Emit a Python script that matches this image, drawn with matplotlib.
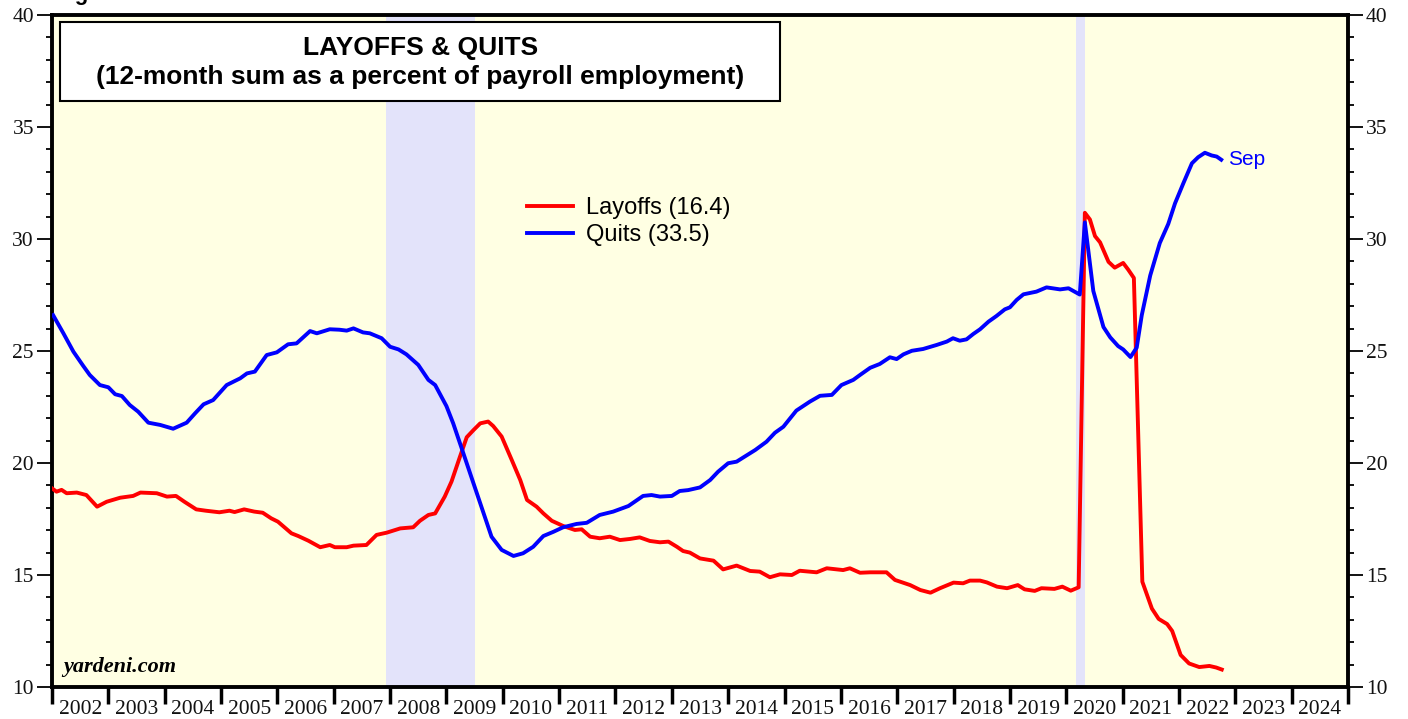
import matplotlib.pyplot as plt
import numpy as np
from matplotlib.patches import Rectangle
from matplotlib.ticker import MultipleLocator, FixedLocator, NullFormatter

# Quits, 12-month sum as % of payroll employment (decimal year)
quits_t = [2002.02, 2002.20, 2002.38, 2002.55, 2002.67, 2002.85, 2003.00, 2003.12, 2003.24,
           2003.38, 2003.53, 2003.71, 2003.92, 2004.15, 2004.39, 2004.54, 2004.69, 2004.86,
           2005.10, 2005.34, 2005.46, 2005.60, 2005.81, 2005.99, 2006.19, 2006.34, 2006.58,
           2006.70, 2006.93, 2007.10, 2007.23, 2007.35, 2007.52, 2007.64, 2007.85, 2008.00,
           2008.15, 2008.29, 2008.50, 2008.68, 2008.80, 2009.00, 2009.12, 2009.27, 2009.42,
           2009.60, 2009.80, 2009.98, 2010.19, 2010.36, 2010.54, 2010.72, 2010.90, 2011.07,
           2011.31, 2011.49, 2011.72, 2011.96, 2012.23, 2012.49, 2012.64, 2012.79, 2013.00,
           2013.14, 2013.29, 2013.50, 2013.68, 2013.82, 2014.00, 2014.15, 2014.27, 2014.48,
           2014.68, 2014.83, 2014.98, 2015.21, 2015.45, 2015.63, 2015.84, 2016.01, 2016.22,
           2016.34, 2016.52, 2016.69, 2016.87, 2016.99, 2017.11, 2017.26, 2017.46, 2017.70,
           2017.88, 2017.99, 2018.11, 2018.23, 2018.35, 2018.47, 2018.62, 2018.76, 2018.91,
           2019.00, 2019.12, 2019.24, 2019.47, 2019.65, 2019.89, 2020.04, 2020.24, 2020.33,
           2020.48, 2020.66, 2020.78, 2020.92, 2021.01, 2021.14, 2021.25, 2021.34, 2021.49,
           2021.66, 2021.81, 2021.93, 2022.08, 2022.23, 2022.34, 2022.46, 2022.58, 2022.67,
           2022.75]
quits_v = [26.60, 25.80, 24.97, 24.35, 23.93, 23.48, 23.38, 23.07, 22.99,
           22.59, 22.29, 21.80, 21.70, 21.53, 21.80, 22.22, 22.62, 22.81,
           23.48, 23.78, 24.00, 24.08, 24.82, 24.94, 25.30, 25.34, 25.89,
           25.79, 25.97, 25.95, 25.91, 26.01, 25.83, 25.79, 25.57, 25.19,
           25.07, 24.85, 24.38, 23.71, 23.48, 22.54, 21.77, 20.66, 19.54,
           18.20, 16.71, 16.12, 15.85, 15.97, 16.26, 16.74, 16.93, 17.13,
           17.28, 17.33, 17.68, 17.83, 18.08, 18.53, 18.57, 18.50, 18.53,
           18.75, 18.79, 18.91, 19.24, 19.61, 19.99, 20.06, 20.25, 20.58,
           20.95, 21.35, 21.62, 22.34, 22.74, 23.00, 23.04, 23.48, 23.71,
           23.93, 24.25, 24.42, 24.72, 24.64, 24.85, 25.01, 25.09, 25.27,
           25.42, 25.57, 25.46, 25.52, 25.76, 25.97, 26.31, 26.56, 26.86,
           26.95, 27.28, 27.53, 27.65, 27.84, 27.75, 27.80, 27.52, 30.74,
           27.68, 26.07, 25.61, 25.22, 25.07, 24.73, 25.15, 26.60, 28.37,
           29.82, 30.67, 31.59, 32.50, 33.38, 33.65, 33.85, 33.73, 33.68,
           33.54]

# Layoffs, 12-month sum as % of payroll employment
layoffs_t = [2002.00, 2002.08, 2002.17, 2002.26, 2002.44, 2002.61, 2002.80, 2002.97, 2003.21,
             2003.44, 2003.57, 2003.86, 2004.04, 2004.20, 2004.35, 2004.56, 2004.73, 2004.97,
             2005.15, 2005.24, 2005.41, 2005.59, 2005.74, 2005.89, 2006.01, 2006.25, 2006.37,
             2006.55, 2006.76, 2006.93, 2007.02, 2007.23, 2007.35, 2007.58, 2007.76, 2007.94,
             2008.18, 2008.41, 2008.53, 2008.68, 2008.80, 2008.97, 2009.09, 2009.24, 2009.36,
             2009.48, 2009.60, 2009.74, 2009.83, 2009.98, 2010.16, 2010.31, 2010.43, 2010.60,
             2010.72, 2010.87, 2011.07, 2011.28, 2011.40, 2011.55, 2011.72, 2011.90, 2012.08,
             2012.26, 2012.43, 2012.61, 2012.79, 2012.94, 2013.09, 2013.20, 2013.32, 2013.50,
             2013.74, 2013.91, 2014.15, 2014.39, 2014.56, 2014.74, 2014.92, 2015.13, 2015.27,
             2015.57, 2015.75, 2016.04, 2016.16, 2016.34, 2016.52, 2016.81, 2016.96, 2017.23,
             2017.41, 2017.59, 2017.76, 2018.00, 2018.17, 2018.29, 2018.47, 2018.59, 2018.77,
             2018.95, 2019.14, 2019.26, 2019.44, 2019.56, 2019.79, 2019.93, 2020.08, 2020.22,
             2020.33, 2020.42, 2020.51, 2020.60, 2020.75, 2020.86, 2021.01, 2021.10, 2021.20,
             2021.35, 2021.52, 2021.64, 2021.79, 2021.88, 2022.03, 2022.18, 2022.36, 2022.54,
             2022.66, 2022.76]
layoffs_v = [18.87, 18.72, 18.80, 18.65, 18.68, 18.57, 18.05, 18.27, 18.45,
             18.53, 18.68, 18.65, 18.50, 18.53, 18.27, 17.93, 17.87, 17.80,
             17.87, 17.81, 17.93, 17.83, 17.78, 17.53, 17.38, 16.86, 16.74,
             16.53, 16.24, 16.34, 16.24, 16.24, 16.31, 16.34, 16.79, 16.89,
             17.08, 17.13, 17.42, 17.68, 17.75, 18.50, 19.17, 20.28, 21.15,
             21.47, 21.77, 21.85, 21.65, 21.18, 20.13, 19.24, 18.35, 18.05,
             17.75, 17.42, 17.19, 17.01, 17.04, 16.71, 16.64, 16.71, 16.56,
             16.61, 16.68, 16.52, 16.46, 16.49, 16.26, 16.07, 16.00, 15.74,
             15.64, 15.25, 15.42, 15.18, 15.15, 14.90, 15.03, 15.00, 15.19,
             15.12, 15.30, 15.22, 15.30, 15.10, 15.12, 15.12, 14.78, 14.55,
             14.33, 14.21, 14.41, 14.66, 14.63, 14.75, 14.75, 14.67, 14.48,
             14.41, 14.55, 14.36, 14.29, 14.41, 14.38, 14.48, 14.30, 14.45,
             31.17, 30.87, 30.13, 29.85, 28.98, 28.72, 28.93, 28.63, 28.26,
             14.70, 13.50, 13.04, 12.81, 12.50, 11.43, 11.05, 10.89, 10.94,
             10.87, 10.78]

recessions = [(2007.92, 2009.50), (2020.17, 2020.33)]
years = list(range(2002, 2025))
title_lines = ["LAYOFFS & QUITS", "(12-month sum as a percent of payroll employment)"]

fig = plt.figure(figsize=(14.08, 7.19), dpi=100)
ax = fig.add_axes([52 / 1408, 1 - 687 / 719, 1296 / 1408, 672 / 719])
ax.set_facecolor("#FFFFE3")

for r0, r1 in recessions:
    ax.axvspan(r0, r1, color="#E3E3FA", lw=0, zorder=1)

ax.plot(layoffs_t, layoffs_v, color="#FF0000", lw=2.8, label="Layoffs (16.4)", zorder=3,
        solid_joinstyle="round")
ax.plot(quits_t, quits_v, color="#0000FF", lw=2.8, label="Quits (33.5)", zorder=4,
        solid_joinstyle="round")

ax.set_xlim(2002, 2025)
ax.set_ylim(10, 40)

# y axis: ticks on both sides, outward
ax.yaxis.set_major_locator(MultipleLocator(5))
ax.yaxis.set_minor_locator(MultipleLocator(1))
ax.tick_params(axis="y", which="major", direction="out", length=11, width=1.3,
               left=True, right=True, labelleft=True, labelright=True,
               labelsize=15.5, pad=2, labelcolor="#111111")
ax.tick_params(axis="y", which="minor", direction="out", length=4, width=1.3,
               left=True, right=True)

# x axis: year boundaries as ticks, labels centred in each year
ax.xaxis.set_major_locator(FixedLocator(years + [2025]))
ax.xaxis.set_major_formatter(NullFormatter())
ax.xaxis.set_minor_locator(FixedLocator([y + 0.5 for y in years]))
ax.set_xticklabels([str(y) for y in years], minor=True)
ax.tick_params(axis="x", which="major", direction="out", length=12, width=2.5)
ax.tick_params(axis="x", which="minor", length=0, labelsize=15.5, pad=9,
               labelcolor="#111111")

for lab in ax.get_xticklabels(minor=True) + ax.yaxis.get_majorticklabels():
    lab.set_family("Liberation Serif")
for lab in ax.yaxis.get_ticklabels(which="major"):
    lab.set_family("Liberation Serif")

for s in ax.spines.values():
    s.set_linewidth(2.8)

# title box
ax.add_patch(Rectangle((0.0062, 0.872), 0.5555, 0.1176, transform=ax.transAxes,
                       facecolor="white", edgecolor="black", lw=1.5, zorder=5))
ax.text(0.284, 0.951, title_lines[0], transform=ax.transAxes, ha="center", va="center",
        fontsize=19, fontweight="bold", family="Liberation Sans", zorder=6)
ax.text(0.284, 0.908, title_lines[1], transform=ax.transAxes, ha="center", va="center",
        fontsize=19, fontweight="bold", family="Liberation Sans", zorder=6)

leg = ax.legend(loc="upper left", bbox_to_anchor=(0.3664, 0.729), frameon=False,
                prop={"family": "Liberation Sans", "size": 17}, handlelength=1.95,
                handletextpad=0.55, labelspacing=0.22, borderaxespad=0, borderpad=0)

ax.annotate("Sep", xy=(quits_t[-1], quits_v[-1]), xytext=(5, 0), textcoords="offset points",
            color="#0000FF", fontsize=15, family="Liberation Sans", va="center", ha="left")

ax.text(0.009, 0.022, "yardeni.com", transform=ax.transAxes, fontsize=16,
        fontweight="bold", fontstyle="italic", family="Liberation Serif", zorder=6)

fig.text(55 / 1408, 1.0, "Figure 1.", fontsize=16, fontweight="bold",
         family="Liberation Sans", va="baseline")

fig.savefig("out.png", dpi=100)
